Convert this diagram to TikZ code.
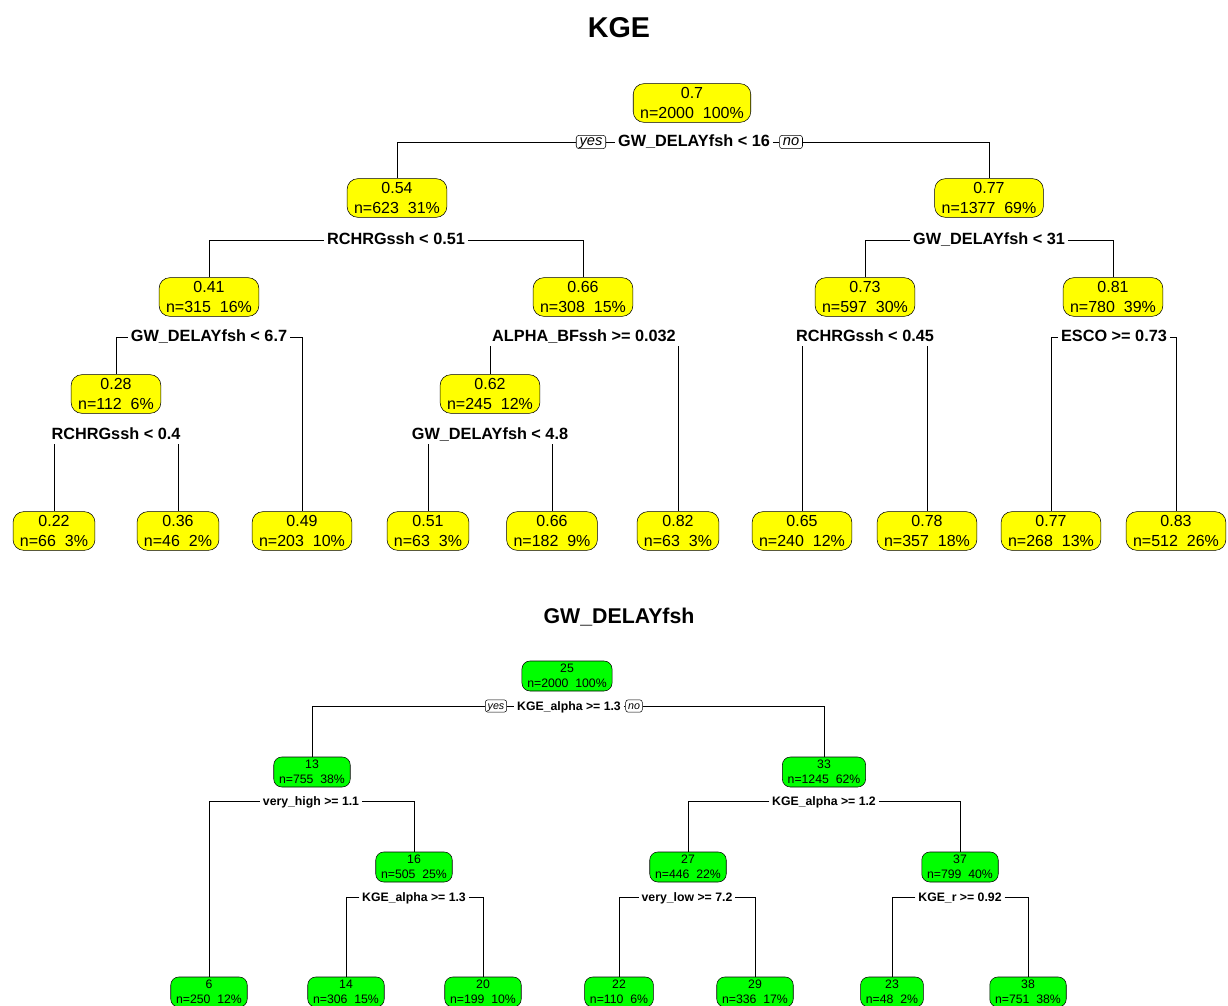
\documentclass[tikz,border=0pt]{standalone}
\usepackage{fontspec}
\setmainfont{Liberation Sans}
\definecolor{kgeyellow}{RGB}{255,255,0}
\definecolor{gwgreen}{RGB}{0,255,0}
\begin{document}
\begin{tikzpicture}[x=0.75pt, y=-0.75pt,
    every node/.style={font=\fontsize{12}{15}\selectfont},
    ybox/.style={draw, fill=kgeyellow, rounded corners=8pt, align=center, minimum height=29pt, inner xsep=5.2pt, inner ysep=0pt},
    gbox/.style={draw, fill=gwgreen, rounded corners=6pt, align=center, minimum height=22.5pt, inner xsep=4pt, inner ysep=0pt, font=\fontsize{9.2}{11.25}\selectfont},
    split/.style={font=\bfseries\fontsize{12.2}{14}\selectfont, text height=0.72em, text depth=0pt, inner xsep=2pt, inner ysep=3pt},
    gsplit/.style={split, font=\bfseries\fontsize{9.2}{11}\selectfont},
    yesno/.style={draw, rounded corners=2pt, font=\itshape\fontsize{11}{11}\selectfont, text height=0.6em, text depth=0.15em, inner xsep=2.5pt, inner ysep=1.2pt},
    gyesno/.style={yesno, font=\itshape\fontsize{8}{8}\selectfont, inner xsep=1.8pt, inner ysep=0.9pt},
    conn/.style={line width=0.6pt}]
    \useasboundingbox (0,0) rectangle (1228,1006);
    \clip (0,0) rectangle (1228,1006);

    \node [font=\bfseries\fontsize{21.5}{24}\selectfont] (kge) at (619,28) {KGE};
    \node [ybox] (r) at (692,103) {0.7\\n=2000~~100\%};
    \node [split] (s1) at (694,142) {GW\_DELAYfsh < 16};
    \node [yesno] (yes1) at (591,142) {yes};
    \node [yesno] (no1) at (791,142) {no};
    \node [ybox] (a) at (397,198) {0.54\\n=623~~31\%};
    \node [ybox] (b) at (989,198) {0.77\\n=1377~~69\%};
    \node [split] (s2) at (396,240) {RCHRGssh < 0.51};
    \node [split] (s3) at (989,240) {GW\_DELAYfsh < 31};
    \node [ybox] (a1) at (209,297) {0.41\\n=315~~16\%};
    \node [ybox] (a2) at (583,297) {0.66\\n=308~~15\%};
    \node [ybox] (b1) at (865,297) {0.73\\n=597~~30\%};
    \node [ybox] (b2) at (1113,297) {0.81\\n=780~~39\%};
    \node [split] (s4) at (209,337) {GW\_DELAYfsh < 6.7};
    \node [split] (s5) at (584,337) {ALPHA\_BFssh >= 0.032};
    \node [split] (s6) at (865,337) {RCHRGssh < 0.45};
    \node [split] (s7) at (1114,337) {ESCO >= 0.73};
    \node [ybox] (a11) at (116,394) {0.28\\n=112~~6\%};
    \node [ybox] (a21) at (490,394) {0.62\\n=245~~12\%};
    \node [split] (s8) at (116,435) {RCHRGssh < 0.4};
    \node [split] (s9) at (490,435) {GW\_DELAYfsh < 4.8};
    \node [ybox] (l1) at (54,531) {0.22\\n=66~~3\%};
    \node [ybox] (l2) at (178,531) {0.36\\n=46~~2\%};
    \node [ybox] (l3) at (302,531) {0.49\\n=203~~10\%};
    \node [ybox] (l4) at (428,531) {0.51\\n=63~~3\%};
    \node [ybox] (l5) at (552,531) {0.66\\n=182~~9\%};
    \node [ybox] (l6) at (678,531) {0.82\\n=63~~3\%};
    \node [ybox] (l7) at (802,531) {0.65\\n=240~~12\%};
    \node [ybox] (l8) at (927,531) {0.78\\n=357~~18\%};
    \node [ybox] (l9) at (1051,531) {0.77\\n=268~~13\%};
    \node [ybox] (l10) at (1176,531) {0.83\\n=512~~26\%};

    \draw [conn] (yes1.west) -| (a.north);
    \draw [conn] (yes1.east) -- (s1.west);
    \draw [conn] (s1.east) -- (no1.west);
    \draw [conn] (no1.east) -| (b.north);
    \draw [conn] (s2.west) -| (a1.north);
    \draw [conn] (s2.east) -| (a2.north);
    \draw [conn] (s3.west) -| (b1.north);
    \draw [conn] (s3.east) -| (b2.north);
    \draw [conn] (s4.west) -| (a11.north);
    \draw [conn] (s4.east) -| (l3.north);
    \draw [conn] (a21.north) -- (a21.north |- s5.south);
    \draw [conn] (l6.north) -- (l6.north |- s5.south);
    \draw [conn] (l7.north) -- (l7.north |- s6.south);
    \draw [conn] (l8.north) -- (l8.north |- s6.south);
    \draw [conn] (s7.west) -| (l9.north);
    \draw [conn] (s7.east) -| (l10.north);
    \draw [conn] (l1.north) -- (l1.north |- s8.south);
    \draw [conn] (l2.north) -- (l2.north |- s8.south);
    \draw [conn] (l4.north) -- (l4.north |- s9.south);
    \draw [conn] (l5.north) -- (l5.north |- s9.south);

    \node [font=\bfseries\fontsize{16}{18}\selectfont] (gwd) at (619,617) {GW\_DELAYfsh};
    \node [gbox] (g) at (567,676) {25\\n=2000~~100\%};
    \node [gsplit] (t1) at (569,706) {KGE\_alpha >= 1.3};
    \node [gyesno] (yes2) at (496,706) {yes};
    \node [gyesno] (no2) at (634,706) {no};
    \node [gbox] (g1) at (312,772) {13\\n=755~~38\%};
    \node [gbox] (g2) at (824,772) {33\\n=1245~~62\%};
    \node [gsplit] (t2) at (311,801) {very\_high >= 1.1};
    \node [gsplit] (t3) at (824,801) {KGE\_alpha >= 1.2};
    \node [gbox] (g12) at (414,867) {16\\n=505~~25\%};
    \node [gbox] (g21) at (688,867) {27\\n=446~~22\%};
    \node [gbox] (g22) at (960,867) {37\\n=799~~40\%};
    \node [gsplit] (t4) at (414,897) {KGE\_alpha >= 1.3};
    \node [gsplit] (t5) at (687,897) {very\_low >= 7.2};
    \node [gsplit] (t6) at (960,897) {KGE\_r >= 0.92};
    \node [gbox] (m1) at (209,992) {6\\n=250~~12\%};
    \node [gbox] (m2) at (346,992) {14\\n=306~~15\%};
    \node [gbox] (m3) at (483,992) {20\\n=199~~10\%};
    \node [gbox] (m4) at (619,992) {22\\n=110~~6\%};
    \node [gbox] (m5) at (755,992) {29\\n=336~~17\%};
    \node [gbox] (m6) at (892,992) {23\\n=48~~2\%};
    \node [gbox] (m7) at (1028,992) {38\\n=751~~38\%};

    \draw [conn] (yes2.west) -| (g1.north);
    \draw [conn] (yes2.east) -- (t1.west);
    \draw [conn] (t1.east) -- (no2.west);
    \draw [conn] (no2.east) -| (g2.north);
    \draw [conn] (t2.west) -| (m1.north);
    \draw [conn] (t2.east) -| (g12.north);
    \draw [conn] (t3.west) -| (g21.north);
    \draw [conn] (t3.east) -| (g22.north);
    \draw [conn] (t4.west) -| (m2.north);
    \draw [conn] (t4.east) -| (m3.north);
    \draw [conn] (t5.west) -| (m4.north);
    \draw [conn] (t5.east) -| (m5.north);
    \draw [conn] (t6.west) -| (m6.north);
    \draw [conn] (t6.east) -| (m7.north);
\end{tikzpicture}
\end{document}
